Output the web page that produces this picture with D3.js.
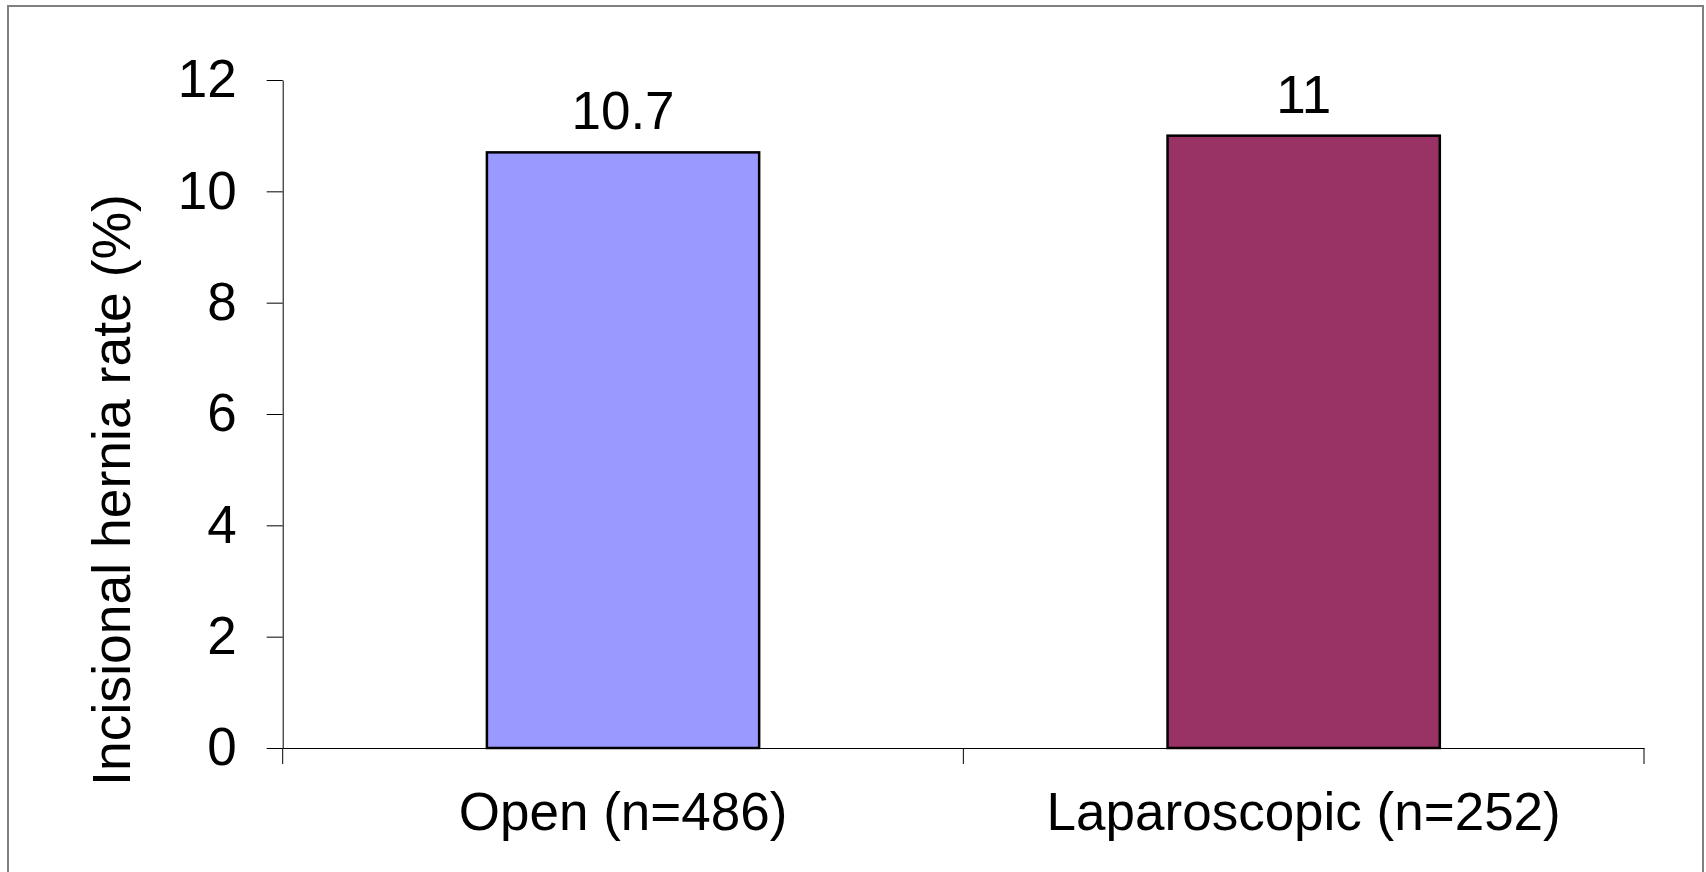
<!DOCTYPE html>
<html>
<head>
<meta charset="utf-8">
<script src="https://cdn.jsdelivr.net/npm/d3@7"></script>
<style>
  html, body { margin: 0; padding: 0; background: #fff; }
  svg { display: block; font-family: "Liberation Sans", Arial, sans-serif; }
</style>
</head>
<body>
<svg id="svg1"></svg>
<script>
// data
var categories = ["Open (n=486)", "Laparoscopic (n=252)"];
var rates = [10.7, 11];
var barColors = ["#9999ff", "#993366"];
var yTicks = [0, 2, 4, 6, 8, 10, 12];
var yTitle = "Incisional hernia rate (%)";

var W = 1706, H = 872;
var margin = {top: 80, right: 62, bottom: 124, left: 282.7};
var width = W - margin.left - margin.right,
    height = H - margin.top - margin.bottom;
var fs = 53;

var root = d3.select("#svg1").attr("width", W).attr("height", H);

// outer frame
root.append("rect")
  .attr("x", 8).attr("y", 6)
  .attr("width", 1695).attr("height", 900)
  .attr("fill", "none")
  .attr("stroke", "#808080")
  .attr("stroke-width", 2);

var svg = root.append("g")
  .attr("transform", `translate(${margin.left},${margin.top})`);

var x = d3.scaleBand()
  .domain(categories)
  .range([0, width])
  .paddingInner(0.6)
  .paddingOuter(0.3);

var y = d3.scaleLinear()
  .domain([0, 12])
  .range([height, 0]);

// y axis
var yAxisG = svg.append("g")
  .call(d3.axisLeft(y).tickValues(yTicks).tickSize(16).tickPadding(30).tickSizeOuter(0))
yAxisG.select(".domain").attr("stroke", "#000");
yAxisG.selectAll(".tick line").attr("stroke", "#000");
yAxisG.selectAll("text")
  .style("font-size", fs + "px")
  .attr("fill", "#000");

// x axis (line + labels)
var xAxisG = svg.append("g")
  .attr("transform", `translate(0,${height})`)
  .call(d3.axisBottom(x).tickSize(0).tickPadding(44).tickSizeOuter(0));
xAxisG.select(".domain").attr("stroke", "#000");
xAxisG.selectAll("text")
  .style("font-size", fs + "px")
  .attr("fill", "#000");

// category boundary ticks
var bounds = [0].concat(categories.map(function(c){ return x(c) + x.bandwidth() + x.step()*x.paddingInner()/2; }));
bounds[bounds.length-1] = width;
svg.selectAll(".btick")
  .data(bounds)
  .enter()
  .append("line")
    .attr("class", "btick")
    .attr("x1", d => d).attr("x2", d => d)
    .attr("y1", height).attr("y2", height + 16)
    .attr("stroke", "#000");

// bars
svg.selectAll(".bar")
  .data(rates)
  .enter()
  .append("rect")
    .attr("class", "bar")
    .attr("x", (d,i) => x(categories[i]))
    .attr("y", d => y(d))
    .attr("width", x.bandwidth())
    .attr("height", d => height - y(d))
    .attr("fill", (d,i) => barColors[i])
    .attr("stroke", "#000")
    .attr("stroke-width", 2.5);

// value labels
svg.selectAll(".val")
  .data(rates)
  .enter()
  .append("text")
    .attr("class", "val")
    .attr("x", (d,i) => x(categories[i]) + x.bandwidth()/2)
    .attr("y", d => y(d) - 23)
    .attr("text-anchor", "middle")
    .style("font-size", fs + "px")
    .text(d => d);

// y title
svg.append("text")
  .attr("transform", `translate(${130 - margin.left},${490 - margin.top}) rotate(-90)`)
  .attr("text-anchor", "middle")
  .style("font-size", "53.5px")
  .text(yTitle);
</script>
</body>
</html>
